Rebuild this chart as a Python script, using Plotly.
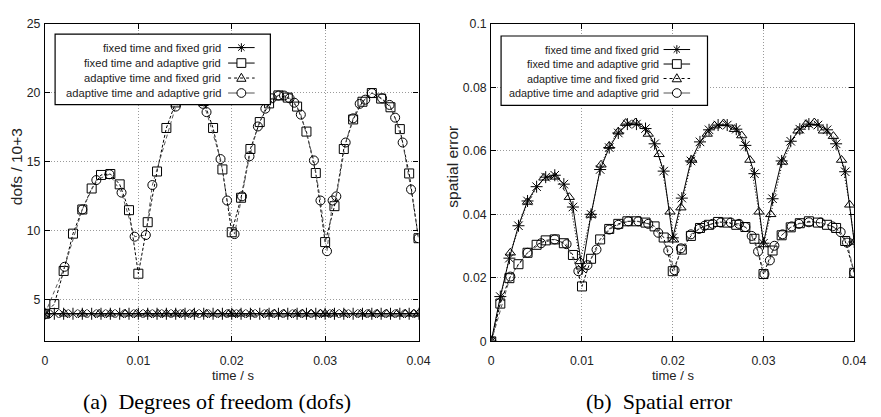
import plotly.graph_objects as go

W, H = 881, 417

SANS = "Liberation Sans, Arial, sans-serif"
SERIF = "Liberation Serif, Times New Roman, serif"

# ---- tick labels -------------------------------------------------------
time_ticks = [0, 0.01, 0.02, 0.03, 0.04]
time_tick_text = ["0", "0.01", "0.02", "0.03", "0.04"]
dofs_ticks = [5, 10, 15, 20, 25]
dofs_tick_text = ["5", "10", "15", "20", "25"]
err_ticks = [0, 0.02, 0.04, 0.06, 0.08, 0.1]
err_tick_text = ["0", "0.02", "0.04", "0.06", "0.08", "0.1"]

series_names = [
    "fixed time and fixed grid",
    "fixed time and adaptive grid",
    "adaptive time and fixed grid",
    "adaptive time and adaptive grid",
]

# ---- fixed time step (output every 1 ms) -------------------------------
t_fixed = [0.000, 0.001, 0.002, 0.003, 0.004, 0.005, 0.006, 0.007, 0.008, 0.009,
           0.010, 0.011, 0.012, 0.013, 0.014, 0.015, 0.016, 0.017, 0.018, 0.019,
           0.020, 0.021, 0.022, 0.023, 0.024, 0.025, 0.026, 0.027, 0.028, 0.029,
           0.030, 0.031, 0.032, 0.033, 0.034, 0.035, 0.036, 0.037, 0.038, 0.039,
           0.040]

# ---- adaptive time steps ------------------------------------------------
t_adapt_fixed = [0.0000, 0.0021, 0.0040, 0.0058, 0.0070, 0.0086, 0.0098, 0.0110,
                 0.0121, 0.0130, 0.0140, 0.0148, 0.0159, 0.0173, 0.0185, 0.0197,
                 0.0201, 0.0209, 0.0221, 0.0238, 0.0246, 0.0256, 0.0268, 0.0276,
                 0.0285, 0.0295, 0.0300, 0.0308, 0.0321, 0.0338, 0.0347, 0.0356,
                 0.0366, 0.0377, 0.0386, 0.0395, 0.0400]

t_adapt_adapt_dofs = [0.0000, 0.0021, 0.0040, 0.0055, 0.0069, 0.0082, 0.0096, 0.0108,
                      0.0115, 0.0140, 0.0152, 0.0162, 0.0169, 0.0173, 0.0188, 0.0195,
                      0.0203, 0.0211, 0.0219, 0.0228, 0.0236, 0.0243, 0.0250, 0.0256,
                      0.0262, 0.0267, 0.0274, 0.0288, 0.0295, 0.0302, 0.0308, 0.0312,
                      0.0322, 0.0330, 0.0337, 0.0343, 0.0350, 0.0361, 0.0369, 0.0375,
                      0.0383, 0.0392, 0.0400]

t_adapt_adapt_err = [0.0000, 0.0021, 0.0040, 0.0055, 0.0070, 0.0083, 0.0096, 0.0106,
                     0.0116, 0.0130, 0.0140, 0.0151, 0.0162, 0.0173, 0.0184, 0.0195,
                     0.0202, 0.0209, 0.0220, 0.0229, 0.0235, 0.0244, 0.0253, 0.0264,
                     0.0273, 0.0280, 0.0287, 0.0294, 0.0301, 0.0307, 0.0312, 0.0321,
                     0.0331, 0.0339, 0.0350, 0.0363, 0.0376, 0.0385, 0.0392, 0.0400]

# ---- (a) degrees of freedom, in units of 10^3 ---------------------------
dofs_fixed_fixed = [4.0, 4.0, 4.0, 4.0, 4.0, 4.0, 4.0, 4.0, 4.0, 4.0,
                    4.0, 4.0, 4.0, 4.0, 4.0, 4.0, 4.0, 4.0, 4.0, 4.0,
                    4.0, 4.0, 4.0, 4.0, 4.0, 4.0, 4.0, 4.0, 4.0, 4.0,
                    4.0, 4.0, 4.0, 4.0, 4.0, 4.0, 4.0, 4.0, 4.0, 4.0,
                    4.0]
dofs_fixed_adapt = [4.0, 4.7, 7.1, 9.8, 11.55, 13.07, 14.05, 14.12, 13.37, 11.5,
                    6.9, 10.63, 14.3, 17.45, 19.3, 19.8, 19.9, 19.4, 17.45, 14.45,
                    9.9, 12.4, 15.93, 17.88, 19.23, 19.81, 19.65, 19.0, 17.19, 14.19,
                    9.19, 11.79, 15.93, 18.07, 19.35, 19.98, 19.58, 18.95, 17.37, 14.16,
                    9.47]
dofs_adapt_fixed = [4.0, 4.0, 4.0, 4.0, 4.0, 4.0, 4.0, 4.0, 4.0, 4.0,
                    4.0, 4.0, 4.0, 4.0, 4.0, 4.0, 4.0, 4.0, 4.0, 4.0,
                    4.0, 4.0, 4.0, 4.0, 4.0, 4.0, 4.0, 4.0, 4.0, 4.0,
                    4.0, 4.0, 4.0, 4.0, 4.0, 4.0, 4.0]
dofs_adapt_adapt = [4.0, 7.4, 11.55, 13.68, 14.1, 12.77, 9.58, 9.70, 13.32, 19.0,
                    19.8, 19.9, 19.2, 18.6, 15.2, 12.2, 9.77, 12.5, 15.4, 17.56,
                    18.85, 19.6, 19.8, 19.8, 19.6, 19.28, 18.42, 15.1, 12.2, 8.53,
                    12.2, 12.5, 16.4, 18.15, 19.2, 19.5, 19.98, 19.6, 19.12, 18.2,
                    16.4, 13.0, 9.47]

# ---- (b) spatial error --------------------------------------------------
err_fixed_fixed = [0.0, 0.0141, 0.0262, 0.0364, 0.0442, 0.0487, 0.0517, 0.0523, 0.0495, 0.0423,
                   0.0228, 0.0400, 0.0541, 0.0610, 0.0656, 0.0684, 0.0684, 0.0670, 0.0622, 0.0536,
                   0.0326, 0.0451, 0.0568, 0.0628, 0.0666, 0.0681, 0.0681, 0.0668, 0.0617, 0.0528,
                   0.0309, 0.0449, 0.0568, 0.0630, 0.0668, 0.0684, 0.0681, 0.0666, 0.0622, 0.0534,
                   0.0313]
err_fixed_adapt = [0.0, 0.0119, 0.0199, 0.0243, 0.0279, 0.0304, 0.0318, 0.0321, 0.0309, 0.0272,
                   0.0173, 0.0260, 0.0321, 0.0354, 0.0370, 0.0378, 0.0378, 0.0374, 0.0362, 0.0327,
                   0.0221, 0.0289, 0.0332, 0.0357, 0.0367, 0.0376, 0.0374, 0.0367, 0.0360, 0.0323,
                   0.0212, 0.0286, 0.0334, 0.0359, 0.0372, 0.0378, 0.0374, 0.0367, 0.0357, 0.0316,
                   0.0216]
err_adapt_fixed = [0.0, 0.0279, 0.0439, 0.0515, 0.0518, 0.0454, 0.0252, 0.0398,
                   0.0556, 0.0615, 0.0660, 0.0687, 0.0689, 0.0653, 0.0589, 0.0408,
                   0.0320, 0.0421, 0.0571, 0.0653, 0.0679, 0.0686, 0.0668, 0.0648,
                   0.0571, 0.0408, 0.0305, 0.0400, 0.0565, 0.0663, 0.0684, 0.0689,
                   0.0663, 0.0646, 0.0571, 0.0430, 0.0313]
err_adapt_adapt = [0.0, 0.0204, 0.0279, 0.0309, 0.0321, 0.0306, 0.0221, 0.0240,
                   0.0289, 0.0352, 0.0367, 0.0378, 0.0378, 0.0370, 0.0342, 0.0286,
                   0.0224, 0.0293, 0.0337, 0.0354, 0.0364, 0.0370, 0.0374, 0.0374,
                   0.0370, 0.0360, 0.0332, 0.0283, 0.0212, 0.0255, 0.0301, 0.0337,
                   0.0362, 0.0370, 0.0375, 0.0374, 0.0362, 0.0344, 0.0311, 0.0216]

# ---- styles per series --------------------------------------------------
STYLES = [
    dict(symbol="asterisk-open", size=10, dash="solid", color="black"),
    dict(symbol="square-open", size=9, dash="3px,2px", color="black"),
    dict(symbol="triangle-up-open", size=9, dash="1px,2px", color="black"),
    dict(symbol="circle-open", size=9, dash="4px,3px", color="#555555"),
]

TICK_FONT = dict(family=SANS, size=12.3, color="#222")
XTITLE_FONT = dict(family=SANS, size=13, color="#222")
YTITLE_FONT = dict(family=SANS, size=15.5, color="#222")
CAPTION_FONT = dict(family=SERIF, size=22, color="black")


def px_x(x):
    return x / W


def px_y(y):
    return 1 - y / H


fig = go.Figure()

panels = [
    ("x", "y", [(t_fixed, dofs_fixed_fixed), (t_fixed, dofs_fixed_adapt),
                (t_adapt_fixed, dofs_adapt_fixed), (t_adapt_adapt_dofs, dofs_adapt_adapt)]),
    ("x2", "y2", [(t_fixed, err_fixed_fixed), (t_fixed, err_fixed_adapt),
                  (t_adapt_fixed, err_adapt_fixed), (t_adapt_adapt_err, err_adapt_adapt)]),
]

for xa, ya, data in panels:
    for (tx, vy), st, name in zip(data, STYLES, series_names):
        fig.add_trace(go.Scatter(
            x=tx, y=vy, name=name, xaxis=xa, yaxis=ya, mode="lines+markers",
            line=dict(color=st["color"], width=1, dash=st["dash"]),
            marker=dict(symbol=st["symbol"], size=st["size"], color="black",
                        line=dict(color="black", width=1)),
            showlegend=False, cliponaxis=True,
        ))

axis_common = dict(
    showline=True, linecolor="black", linewidth=1.2, mirror="ticks",
    ticks="inside", ticklen=5, tickcolor="black", tickwidth=1,
    showgrid=True, gridcolor="#9a9a9a", gridwidth=1, griddash="1px,2px",
    zeroline=False, tickfont=TICK_FONT, fixedrange=True,
)

PLOT_TOP, PLOT_BOT = 17.3, 346.0
fig.update_layout(
    width=W, height=H, margin=dict(l=0, r=0, t=0, b=0),
    paper_bgcolor="white", plot_bgcolor="white", showlegend=False,
    xaxis=dict(domain=[px_x(42.7), px_x(422.7)], range=[0, 0.04], anchor="y",
               tickvals=time_ticks, ticktext=time_tick_text, ticklabelstandoff=8,
               **axis_common),
    yaxis=dict(domain=[px_y(PLOT_BOT), px_y(PLOT_TOP)], range=[2, 25], anchor="x",
               tickvals=dofs_ticks, ticktext=dofs_tick_text, ticklabelstandoff=1,
               **axis_common),
    xaxis2=dict(domain=[px_x(496.7), px_x(866.0)], range=[0, 0.04], anchor="y2",
                tickvals=time_ticks, ticktext=time_tick_text, ticklabelstandoff=8,
                **axis_common),
    yaxis2=dict(domain=[px_y(PLOT_BOT), px_y(PLOT_TOP)], range=[0, 0.1], anchor="x2",
                tickvals=err_ticks, ticktext=err_tick_text, ticklabelstandoff=1,
                **axis_common),
)

annotations = []
shapes = []

# axis titles
for cx, text in [(234, "time / s"), (681.7, "time / s")]:
    annotations.append(dict(x=px_x(cx), y=px_y(381), xref="paper", yref="paper",
                            text=text, showarrow=False, xanchor="center", yanchor="middle",
                            borderpad=0, font=XTITLE_FONT))
for cx, text in [(14, "dofs / 10+3"), (457, "spatial error")]:
    annotations.append(dict(x=px_x(cx), y=px_y(165), xref="paper", yref="paper",
                            text=text, showarrow=False, textangle=-90,
                            xanchor="center", yanchor="middle", font=YTITLE_FONT))

# sub-figure captions
for cx, text in [(218, "(a)  Degrees of freedom (dofs)"), (668, "(b)  Spatial error")]:
    annotations.append(dict(x=px_x(cx), y=px_y(408), xref="paper", yref="paper",
                            text=text, showarrow=False, xanchor="center", yanchor="middle",
                            borderpad=0, font=CAPTION_FONT))


# key boxes drawn over the data (gnuplot-style opaque key)
def line_shape(x0, y0, x1, y1, color="black", dash="solid", width=1):
    return dict(type="line", xref="paper", yref="paper", layer="above",
                x0=px_x(x0), y0=px_y(y0), x1=px_x(x1), y1=px_y(y1),
                line=dict(color=color, width=width, dash=dash))


def marker_shapes(symbol, cx, cy, r=4.5):
    if symbol.startswith("asterisk"):
        segs = [(-r, 0, r, 0), (0, -r, 0, r), (-r * 0.72, -r * 0.72, r * 0.72, r * 0.72),
                (-r * 0.72, r * 0.72, r * 0.72, -r * 0.72)]
        return [line_shape(cx + a, cy + b, cx + c, cy + d) for a, b, c, d in segs]
    if symbol.startswith("square"):
        return [dict(type="rect", xref="paper", yref="paper", layer="above",
                     x0=px_x(cx - r), x1=px_x(cx + r), y0=px_y(cy + r), y1=px_y(cy - r),
                     line=dict(color="black", width=1), fillcolor="rgba(0,0,0,0)")]
    if symbol.startswith("circle"):
        return [dict(type="circle", xref="paper", yref="paper", layer="above",
                     x0=px_x(cx - r), x1=px_x(cx + r), y0=px_y(cy + r), y1=px_y(cy - r),
                     line=dict(color="black", width=1), fillcolor="rgba(0,0,0,0)")]
    pts = [(cx, cy - r * 1.1), (cx + r * 1.05, cy + r * 0.75), (cx - r * 1.05, cy + r * 0.75)]
    path = "M {} {} L {} {} L {} {} Z".format(*[v for p in pts for v in (px_x(p[0]), px_y(p[1]))])
    return [dict(type="path", xref="paper", yref="paper", layer="above", path=path,
                 line=dict(color="black", width=1), fillcolor="rgba(0,0,0,0)")]


keys = [
    dict(box=(53, 28, 272, 101), text_right=224, line=(229, 256), mark=242.5,
         rows=[42, 58, 73.5, 89], font=11.2),
    dict(box=(506.7, 30, 716.7, 101.7), text_right=669.5, line=(672, 699), mark=685.5,
         rows=[44, 59, 74, 89], font=10.8),
]

for key in keys:
    bx0, by0, bx1, by1 = key["box"]
    shapes.append(dict(type="rect", xref="paper", yref="paper", layer="above",
                       x0=px_x(bx0), x1=px_x(bx1), y0=px_y(by1), y1=px_y(by0),
                       line=dict(color="black", width=1.2), fillcolor="white"))
    for name, st, ry in zip(series_names, STYLES, key["rows"]):
        annotations.append(dict(x=px_x(key["text_right"]), y=px_y(ry), xref="paper", yref="paper",
                                text=name, showarrow=False, xanchor="right", yanchor="middle",
                                font=dict(family=SANS, size=key["font"], color="#222")))
        lx0, lx1 = key["line"]
        shapes.append(line_shape(lx0, ry, lx1, ry, color=st["color"],
                                 dash="solid" if st["dash"] == "solid" else
                                 ("dot" if st["dash"].startswith("1px") else "dash")))
        shapes.extend(marker_shapes(st["symbol"], key["mark"], ry))

fig.update_layout(annotations=annotations, shapes=shapes)

fig.write_html("out.html")
